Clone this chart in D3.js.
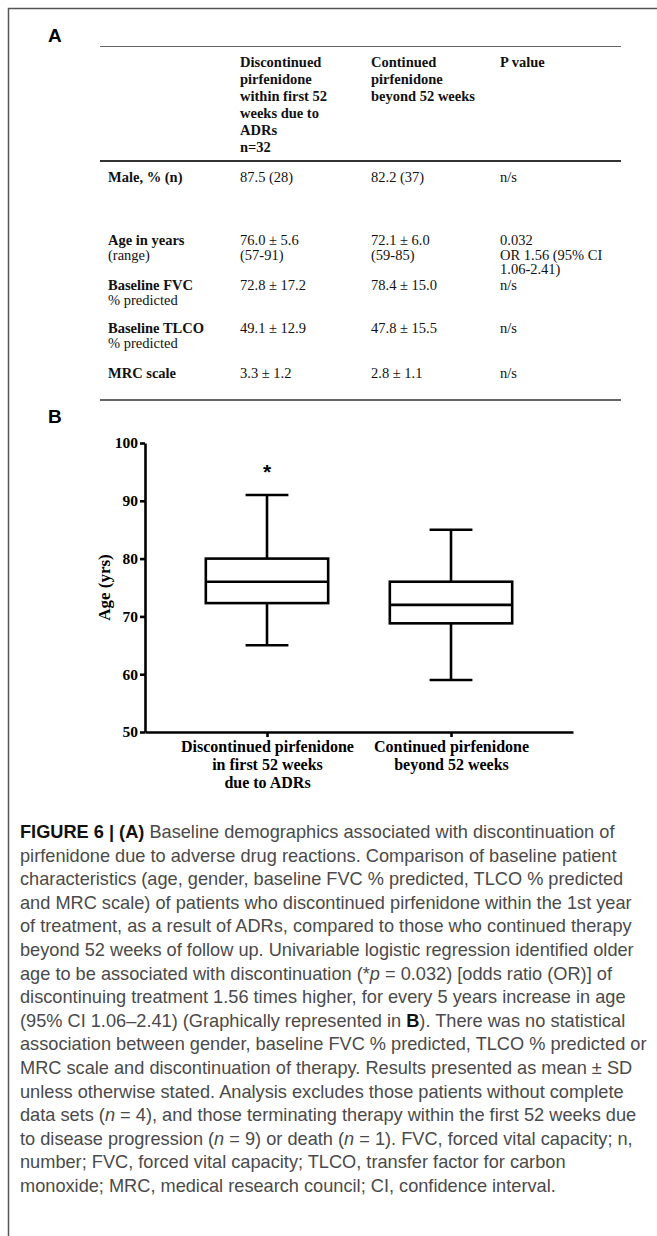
<!DOCTYPE html>
<html>
<head>
<meta charset="utf-8">
<script src="https://cdn.jsdelivr.net/npm/d3@7"></script>
<style>
  body { margin: 0; background: #fff; }
  svg { display: block; }
</style>
</head>
<body>
<script>
// ---- table A data ----
var headerCells = [
  [],
  ["Discontinued", "pirfenidone", "within first 52", "weeks due to", "ADRs", "n=32"],
  ["Continued", "pirfenidone", "beyond 52 weeks"],
  ["P value"]
];
var rowLabels = [["Male, % (n)"], ["Age in years", "(range)"], ["Baseline FVC", "% predicted"], ["Baseline TLCO", "% predicted"], ["MRC scale"]];
var discontinued = [["87.5 (28)"], ["76.0 \u00b1 5.6", "(57-91)"], ["72.8 \u00b1 17.2"], ["49.1 \u00b1 12.9"], ["3.3 \u00b1 1.2"]];
var continued = [["82.2 (37)"], ["72.1 \u00b1 6.0", "(59-85)"], ["78.4 \u00b1 15.0"], ["47.8 \u00b1 15.5"], ["2.8 \u00b1 1.1"]];
var pValues = [["n/s"], ["0.032", "OR 1.56 (95% CI", "1.06-2.41)"], ["n/s"], ["n/s"], ["n/s"]];

// ---- box plot B data ----
var groupKeys = ["discontinued", "continued"];
var groupLabels = [["Discontinued pirfenidone", "in first 52 weeks", "due to ADRs"], ["Continued pirfenidone", "beyond 52 weeks"]];
var whiskerLow = [65, 59];
var q1 = [72.3, 68.8];
var median = [76, 72];
var q3 = [80, 76];
var whiskerHigh = [91, 85];
var marks = ["*", ""];
var yTicks = [50, 60, 70, 80, 90, 100];

// ---- caption ----
var caption = [
  [["b", "FIGURE 6 | (A)"], ["", " Baseline demographics associated with discontinuation of"]],
  [["", "pirfenidone due to adverse drug reactions. Comparison of baseline patient"]],
  [["", "characteristics (age, gender, baseline FVC % predicted, TLCO % predicted"]],
  [["", "and MRC scale) of patients who discontinued pirfenidone within the 1st year"]],
  [["", "of treatment, as a result of ADRs, compared to those who continued therapy"]],
  [["", "beyond 52 weeks of follow up. Univariable logistic regression identified older"]],
  [["", "age to be associated with discontinuation (*"], ["i", "p"], ["", " = 0.032) [odds ratio (OR)] of"]],
  [["", "discontinuing treatment 1.56 times higher, for every 5 years increase in age"]],
  [["", "(95% CI 1.06\u20132.41) (Graphically represented in "], ["b", "B"], ["", "). There was no statistical"]],
  [["", "association between gender, baseline FVC % predicted, TLCO % predicted or"]],
  [["", "MRC scale and discontinuation of therapy. Results presented as mean \u00b1 SD"]],
  [["", "unless otherwise stated. Analysis excludes those patients without complete"]],
  [["", "data sets ("], ["i", "n"], ["", " = 4), and those terminating therapy within the first 52 weeks due"]],
  [["", "to disease progression ("], ["i", "n"], ["", " = 9) or death ("], ["i", "n"], ["", " = 1). FVC, forced vital capacity; n,"]],
  [["", "number; FVC, forced vital capacity; TLCO, transfer factor for carbon"]],
  [["", "monoxide; MRC, medical research council; CI, confidence interval."]]
];

var W = 657, H = 1236;
var serif = "'Liberation Serif', 'Times New Roman', serif";
var sans = "'Liberation Sans', Arial, sans-serif";

var svg = d3.select("body").append("svg")
  .attr("width", W)
  .attr("height", H);

// outer frame (only top and left edges visible)
svg.append("path")
  .attr("d", "M8.5," + H + "V8.5H" + W)
  .attr("fill", "none")
  .attr("stroke", "#555")
  .attr("stroke-width", 1.5);

// panel letters
svg.append("text").attr("x", 48).attr("y", 42).text("A")
  .attr("font-family", sans).attr("font-weight", "bold").attr("font-size", 19);
svg.append("text").attr("x", 48).attr("y", 423).text("B")
  .attr("font-family", sans).attr("font-weight", "bold").attr("font-size", 19);

// ---------- table ----------
var colX = [108, 240, 371, 500];
var tableLeft = 100, tableRight = 621;
var rowY = [182, 245, 290, 333, 378];
var bodyLine = 14.5;

var table = svg.append("g")
  .attr("font-family", serif)
  .attr("font-size", 14.5)
  .attr("fill", "#111");

table.append("line").attr("x1", tableLeft).attr("x2", tableRight)
  .attr("y1", 46.5).attr("y2", 46.5).attr("stroke", "#666").attr("stroke-width", 1.2);
table.append("line").attr("x1", tableLeft).attr("x2", tableRight)
  .attr("y1", 161).attr("y2", 161).attr("stroke", "#333").attr("stroke-width", 2);
table.append("line").attr("x1", tableLeft).attr("x2", tableRight)
  .attr("y1", 400).attr("y2", 400).attr("stroke", "#333").attr("stroke-width", 1.6);

headerCells.forEach(function (lines, c) {
  var t = table.append("text").attr("font-weight", "bold");
  lines.forEach(function (s, i) {
    t.append("tspan").attr("x", colX[c]).attr("y", 67 + i * 17).text(s);
  });
});

function cell(lines, c, r, boldFirst) {
  var t = table.append("text");
  lines.forEach(function (s, i) {
    t.append("tspan").attr("x", colX[c]).attr("y", rowY[r] + i * bodyLine)
      .attr("font-weight", boldFirst && i === 0 ? "bold" : null)
      .text(s);
  });
}
rowLabels.forEach(function (d, r) { cell(d, 0, r, true); });
discontinued.forEach(function (d, r) { cell(d, 1, r, false); });
continued.forEach(function (d, r) { cell(d, 2, r, false); });
pValues.forEach(function (d, r) { cell(d, 3, r, false); });

// ---------- box plot ----------
var y = d3.scaleLinear().domain([50, 100]).range([732, 443]);
var x = d3.scalePoint().domain(groupKeys).range([145, 573]).padding(0.663);
var boxW = x.step() * 0.665;
var capW = boxW * 0.35;
var sw = 2.6;

var plot = svg.append("g");

var yAxis = plot.append("g")
  .attr("transform", "translate(145,0)")
  .call(d3.axisLeft(y).tickValues(yTicks).tickSize(5).tickSizeOuter(0).tickPadding(2));
var xAxis = plot.append("g")
  .attr("transform", "translate(0,732)")
  .call(d3.axisBottom(x).tickSize(5).tickSizeOuter(0).tickFormat(""));

plot.selectAll(".domain, .tick line")
  .attr("stroke", "#000")
  .attr("stroke-width", sw);
yAxis.selectAll(".tick text")
  .attr("font-family", serif)
  .attr("font-weight", "bold")
  .attr("font-size", 15.5)
  .attr("fill", "#000");

// category labels
xAxis.selectAll(".tick").each(function (d, i) {
  var t = d3.select(this).append("text")
    .attr("text-anchor", "middle")
    .attr("font-family", serif)
    .attr("font-weight", "bold")
    .attr("font-size", 16)
    .attr("fill", "#000");
  groupLabels[i].forEach(function (s, j) {
    t.append("tspan").attr("x", 0).attr("y", 20 + j * 18).text(s);
  });
});

// y axis title
plot.append("text")
  .attr("transform", "translate(110," + ((y(50) + y(100)) / 2) + ") rotate(-90)")
  .attr("text-anchor", "middle")
  .attr("font-family", serif)
  .attr("font-weight", "bold")
  .attr("font-size", 17)
  .text("Age (yrs)");

var boxes = plot.selectAll(".box")
  .data(groupKeys)
  .enter().append("g")
  .attr("class", "box")
  .attr("fill", "none")
  .attr("stroke", "#000")
  .attr("stroke-width", sw);

boxes.append("line")
  .attr("x1", d => x(d)).attr("x2", d => x(d))
  .attr("y1", (d, i) => y(whiskerHigh[i])).attr("y2", (d, i) => y(q3[i]));
boxes.append("line")
  .attr("x1", d => x(d)).attr("x2", d => x(d))
  .attr("y1", (d, i) => y(q1[i])).attr("y2", (d, i) => y(whiskerLow[i]));
boxes.append("line")
  .attr("x1", d => x(d) - capW / 2).attr("x2", d => x(d) + capW / 2)
  .attr("y1", (d, i) => y(whiskerHigh[i])).attr("y2", (d, i) => y(whiskerHigh[i]));
boxes.append("line")
  .attr("x1", d => x(d) - capW / 2).attr("x2", d => x(d) + capW / 2)
  .attr("y1", (d, i) => y(whiskerLow[i])).attr("y2", (d, i) => y(whiskerLow[i]));
boxes.append("rect")
  .attr("x", d => x(d) - boxW / 2)
  .attr("width", boxW)
  .attr("y", (d, i) => y(q3[i]))
  .attr("height", (d, i) => y(q1[i]) - y(q3[i]))
  .attr("fill", "#fff");
boxes.append("line")
  .attr("x1", d => x(d) - boxW / 2).attr("x2", d => x(d) + boxW / 2)
  .attr("y1", (d, i) => y(median[i])).attr("y2", (d, i) => y(median[i]));

plot.selectAll(".mark")
  .data(groupKeys)
  .enter().append("text")
  .attr("class", "mark")
  .attr("x", d => x(d))
  .attr("y", (d, i) => y(whiskerHigh[i]) - 16)
  .attr("text-anchor", "middle")
  .attr("font-family", sans)
  .attr("font-weight", "bold")
  .attr("font-size", 21)
  .text((d, i) => marks[i]);

// ---------- caption ----------
var cap = svg.append("g")
  .attr("font-family", sans)
  .attr("font-size", 16)
  .attr("fill", "#4a4a4a");

var capLines = [];
caption.forEach(function (parts, i) {
  var t = cap.append("text").attr("x", 20).attr("y", 838 + i * 23.6);
  parts.forEach(function (p) {
    var s = t.append("tspan").text(p[1]);
    if (p[0] === "b") s.attr("font-weight", "bold").attr("fill", "#111");
    if (p[0] === "i") s.attr("font-style", "italic");
  });
  capLines.push(t);
});
// fit the widest caption line to the text block width of the figure
var widest = d3.max(capLines, t => t.node().getComputedTextLength());
cap.attr("font-size", 16 * 627 / widest);
</script>
</body>
</html>
